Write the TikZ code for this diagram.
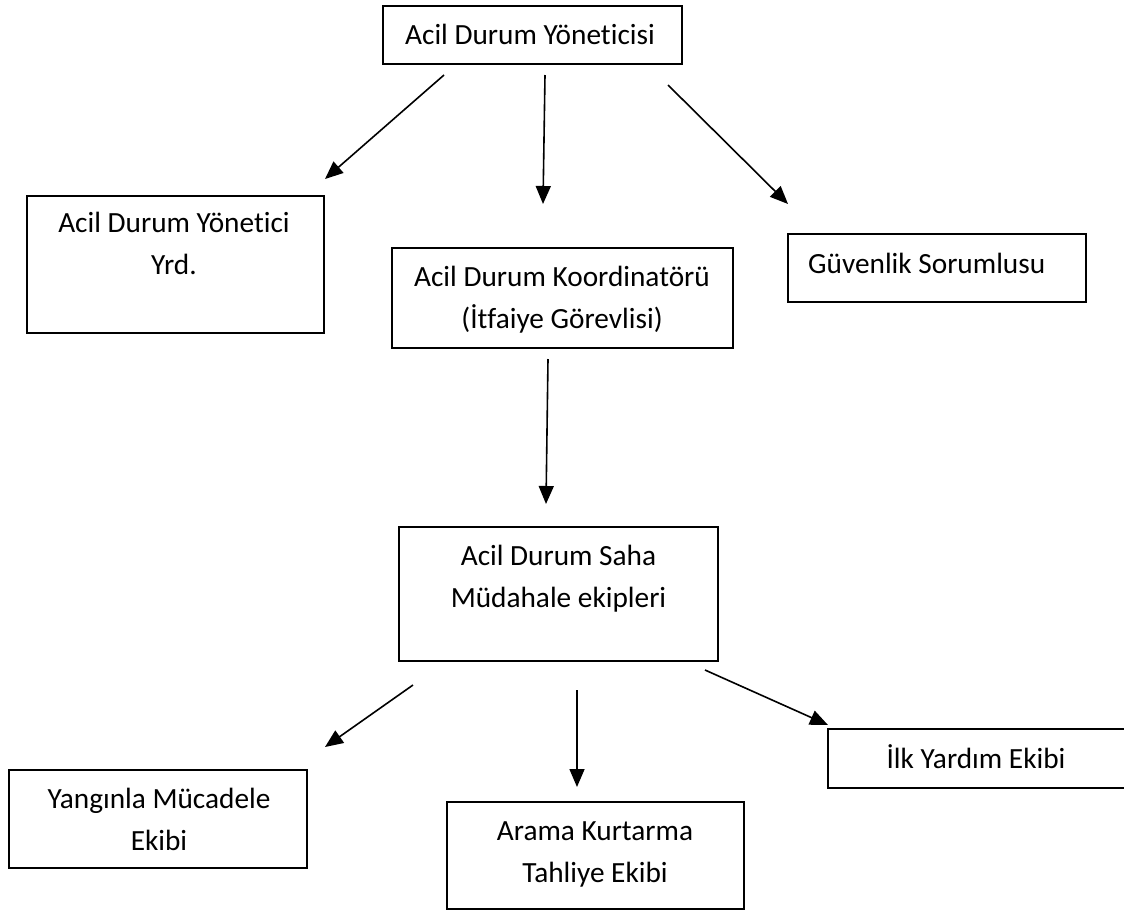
\documentclass[tikz,border=0pt]{standalone}
\usepackage{fontspec}
\setmainfont{Carlito}[Ligatures=NoCommon]
\usetikzlibrary{arrows.meta}
\tikzset{
  box/.style={draw=black, line width=1.7pt, rectangle, inner sep=0pt},
  lbl/.style={font=\fontsize{29.3}{41.5}\selectfont, align=center, inner sep=0pt, anchor=base},
  conn/.style={line width=1.6pt, -{Triangle[length=18pt,width=15pt]}}
}
\begin{document}
\begin{tikzpicture}[x=1pt,y=-1pt]
\path[use as bounding box] (0,0) rectangle (1124,911);
\clip (0,0) rectangle (1124,911);
\fill[white] (0,0) rectangle (1124,911);
% boxes
\node[box, minimum width=299pt, minimum height=58pt] (top) at (532.5,35) {};
\node[box, minimum width=297pt, minimum height=137pt] (yrd) at (175.5,264.5) {};
\node[box, minimum width=341pt, minimum height=100pt] (koord) at (562.5,298) {};
\node[box, minimum width=298pt, minimum height=68pt] (guv) at (937,268) {};
\node[box, minimum width=319pt, minimum height=134pt] (saha) at (558.5,594) {};
\node[box, minimum width=298pt, minimum height=98pt] (yangin) at (158,819) {};
\node[box, minimum width=297pt, minimum height=107pt] (arama) at (595.5,855.5) {};
\node[box, minimum width=312pt, minimum height=59pt] (ilk) at (984,758.5) {};
% texts (base anchor = baseline of the last line)
\node[lbl] (ttop) at (530,44) {Acil Durum Yöneticisi};
\node[lbl] (tyrd) at (174,274) {Acil Durum Yönetici\\Yrd.};
\node[lbl] (tkoord) at (562,328) {Acil Durum Koordinatörü\\(İtfaiye Görevlisi)};
\node[lbl, anchor=base west] (tguv) at (808,273) {Güvenlik Sorumlusu};
\node[lbl] (tsaha) at (558.5,607) {Acil Durum Saha\\Müdahale ekipleri};
\node[lbl] (tyangin) at (159,850) {Yangınla Mücadele\\Ekibi};
\node[lbl] (tarama) at (595,882) {Arama Kurtarma\\Tahliye Ekibi};
\node[lbl] (tilk) at (976,768) {İlk Yardım Ekibi};
% arrow end points
\coordinate (a1s) at (444,75);  \coordinate (a1e) at (325,179);
\coordinate (a2s) at (545,75);  \coordinate (a2e) at (543,204);
\coordinate (a3s) at (668,85);  \coordinate (a3e) at (788,204);
\coordinate (a4s) at (548,359); \coordinate (a4e) at (546,504);
\coordinate (a5s) at (413,685); \coordinate (a5e) at (325,747);
\coordinate (a6s) at (577,690); \coordinate (a6e) at (577,787);
\coordinate (a7s) at (705,670); \coordinate (a7e) at (828,725);
\draw[conn] (a1s) -- (a1e);
\draw[conn] (a2s) -- (a2e);
\draw[conn] (a3s) -- (a3e);
\draw[conn] (a4s) -- (a4e);
\draw[conn] (a5s) -- (a5e);
\draw[conn] (a6s) -- (a6e);
\draw[conn] (a7s) -- (a7e);
\end{tikzpicture}
\end{document}
